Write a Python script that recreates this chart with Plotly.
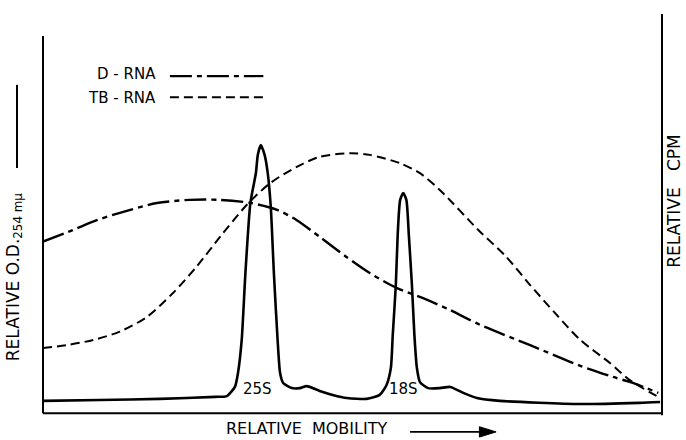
import plotly.graph_objects as go

# Relative mobility (0-100 across the gel) and relative values (0-100 of frame height)
od_x = [0, 9.2, 18.9, 27.8, 29.7, 31.0, 31.5, 32.1, 32.7, 33.5, 34.4, 34.7, 35.2, 35.8, 36.3,
        36.8, 37.3, 37.9, 38.3, 38.8, 40.2, 41.5, 42.6, 44.7, 46.8, 49.1, 52.3, 54.4, 55.5,
        56.2, 56.5, 57.0, 57.3, 57.7, 58.2, 58.7, 59.1, 59.6, 60.0, 60.4, 60.9, 62.2, 64.1,
        65.8, 67.9, 70.1, 73.8, 86.8, 96.4, 99.7]
od_y = [2.8, 3.0, 3.3, 3.8, 4.0, 6.3, 9.8, 18.1, 34.9, 52.5, 60.1, 64.6, 67.1, 64.6, 60.1,
        51.5, 34.9, 18.1, 9.8, 7.3, 6.0, 6.0, 6.5, 5.3, 4.3, 3.5, 3.3, 4.3, 6.8,
        11.1, 19.3, 31.9, 44.5, 53.3, 55.0, 53.3, 44.5, 31.9, 19.3, 11.1, 7.5, 6.0, 6.0,
        6.3, 4.8, 3.5, 2.8, 2.0, 2.3, 2.5]

d_rna_x = [0, 4.8, 8.7, 14.1, 18.4, 23.7, 28.6, 33.6, 37.8, 41.0, 44.7, 48.8, 52.8, 57.1,
           61.4, 65.8, 70.6, 78.7, 86.8, 92.1, 95.3, 99.4]
d_rna_y = [42.8, 45.7, 48.2, 50.8, 52.5, 53.3, 53.3, 52.5, 50.8, 48.2, 44.0, 39.2, 34.9, 31.2,
           28.6, 25.6, 21.9, 16.8, 11.6, 8.8, 7.3, 4.8]

tb_rna_x = [0, 3.8, 8.1, 12.4, 16.8, 21.0, 24.8, 28.6, 32.9, 36.7, 41.0, 44.7, 49.6, 52.8,
            57.7, 60.9, 64.1, 70.6, 74.6, 78.7, 82.7, 86.8, 91.6, 94.8, 99.4]
tb_rna_y = [16.1, 16.8, 18.1, 20.2, 23.9, 29.9, 36.5, 44.0, 52.0, 57.5, 61.6, 64.1, 65.0, 64.6,
            62.5, 60.0, 55.8, 45.3, 39.4, 31.9, 24.9, 18.1, 12.3, 8.0, 3.8]

peak_labels = ["25S", "18S"]
peak_label_x = [34.7, 58.3]
peak_label_y = [5.8, 5.8]

series_names = ["D - RNA", "TB - RNA"]

FONT = "DejaVu Sans, Verdana, sans-serif"
DASHDOT = "22px,5px,5px,5px"
DASHED = "9px,5px"

fig = go.Figure()
fig.add_trace(go.Scatter(x=od_x, y=od_y, mode="lines",
                         line=dict(color="black", width=2.6, shape="spline", smoothing=0.6),
                         showlegend=False, name="O.D."))
fig.add_trace(go.Scatter(x=d_rna_x, y=d_rna_y, mode="lines",
                         line=dict(color="black", width=2.4, shape="spline", smoothing=0.8, dash=DASHDOT),
                         showlegend=False, name=series_names[0]))
fig.add_trace(go.Scatter(x=tb_rna_x, y=tb_rna_y, mode="lines",
                         line=dict(color="black", width=2.0, shape="spline", smoothing=0.8, dash=DASHED),
                         showlegend=False, name=series_names[1]))

shapes = [
    # left axis (shorter), right axis, bottom axis
    dict(type="line", xref="paper", yref="paper", x0=0, x1=0, y0=-0.003, y1=0.945,
         line=dict(color="black", width=2)),
    dict(type="line", xref="paper", yref="paper", x0=1, x1=1, y0=-0.008, y1=1.0,
         line=dict(color="black", width=2)),
    dict(type="line", xref="paper", yref="paper", x0=0, x1=1, y0=-0.003, y1=-0.003,
         line=dict(color="black", width=2)),
    # scale bar beside the left label
    dict(type="line", xref="paper", yref="paper", x0=-0.042, x1=-0.042, y0=0.613, y1=0.822,
         line=dict(color="black", width=2)),
    # legend samples
    dict(type="line", xref="paper", yref="paper", x0=0.205, x1=0.356, y0=0.844, y1=0.844,
         line=dict(color="black", width=2.2, dash=DASHDOT)),
    dict(type="line", xref="paper", yref="paper", x0=0.205, x1=0.356, y0=0.791, y1=0.791,
         line=dict(color="black", width=2.0, dash=DASHED)),
    # arrow after the x-axis label
    dict(type="line", xref="paper", yref="paper", x0=0.593, x1=0.72, y0=-0.05, y1=-0.05,
         line=dict(color="black", width=1.6)),
    dict(type="path", xref="paper", yref="paper",
         path="M 0.705 -0.037 L 0.732 -0.05 L 0.705 -0.063 Z",
         fillcolor="black", line=dict(color="black", width=1)),
]

annotations = [
    dict(text=series_names[0], xref="paper", yref="paper", x=0.186, y=0.848,
         xanchor="right", yanchor="middle", showarrow=False,
         font=dict(family=FONT, size=15, color="black")),
    dict(text=series_names[1], xref="paper", yref="paper", x=0.186, y=0.789,
         xanchor="right", yanchor="middle", showarrow=False,
         font=dict(family=FONT, size=15, color="black")),
    dict(text="RELATIVE O.D.<sub>254 mμ</sub>", xref="paper", yref="paper", x=-0.046, y=0.34,
         textangle=-90, xanchor="center", yanchor="middle", showarrow=False,
         font=dict(family=FONT, size=17, color="black")),
    dict(text="RELATIVE   CPM", xref="paper", yref="paper", x=1.019, y=0.53,
         textangle=-90, xanchor="center", yanchor="middle", showarrow=False,
         font=dict(family=FONT, size=17, color="black")),
    dict(text="RELATIVE  MOBILITY", xref="paper", yref="paper", x=0.425, y=-0.0704,
         xanchor="center", yanchor="bottom", showarrow=False,
         font=dict(family=FONT, size=16, color="black")),
]
for lab, lx, ly in zip(peak_labels, peak_label_x, peak_label_y):
    annotations.append(dict(text=lab, x=lx, y=ly, xref="x", yref="y", showarrow=False,
                            xanchor="center", yanchor="middle",
                            font=dict(family=FONT, size=15, color="black")))

fig.update_layout(
    width=686, height=440,
    margin=dict(l=43, r=24, t=14, b=28),
    paper_bgcolor="white", plot_bgcolor="white",
    xaxis=dict(range=[0, 100], visible=False, fixedrange=True),
    yaxis=dict(range=[0, 100], visible=False, fixedrange=True),
    shapes=shapes, annotations=annotations,
    showlegend=False,
)

fig.write_html("out.html", config={"displayModeBar": False},
               post_script="document.body.style.margin='0';")
